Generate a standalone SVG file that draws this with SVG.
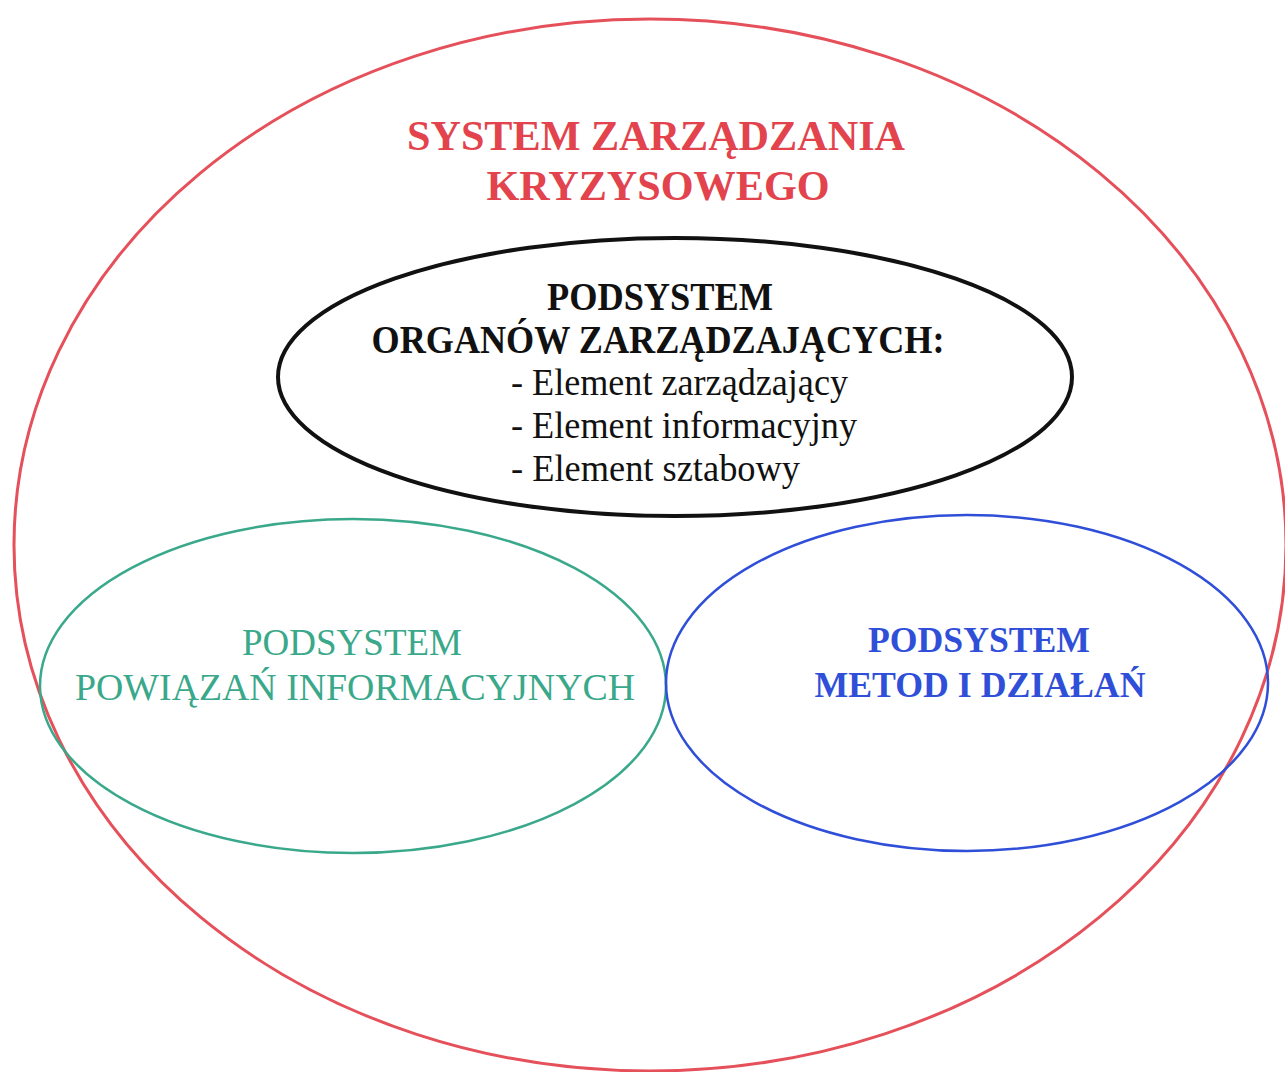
<svg xmlns="http://www.w3.org/2000/svg" width="1285" height="1072" viewBox="0 0 1285 1072">
  <style>
    .outline { fill: none; }
    .t { font-family: "Liberation Serif", "Times New Roman", serif; text-anchor: middle; }
    .s { text-anchor: start; }
    .b { font-weight: bold; }
    .red { fill: #e2434c; }
    .green { fill: #3aa88a; }
    .blue { fill: #2f4fd8; }
    .blk { fill: #111111; }
  </style>
  <rect width="1285" height="1072" fill="#ffffff"/>

  <!-- Outer system -->
  <g id="system">
    <ellipse class="outline" cx="650" cy="545" rx="636" ry="526" stroke="#e5505a" stroke-width="3"/>
    <text class="t b red" font-size="42" x="656" y="150" textLength="498" lengthAdjust="spacingAndGlyphs">SYSTEM ZARZĄDZANIA</text>
    <text class="t b red" font-size="42" x="658" y="200" textLength="343" lengthAdjust="spacingAndGlyphs">KRYZYSOWEGO</text>
  </g>

  <!-- Management bodies subsystem -->
  <g id="organy">
    <ellipse class="outline" cx="675" cy="377" rx="397" ry="139" stroke="#111111" stroke-width="4"/>
    <text class="t b blk" font-size="40" x="660" y="310" textLength="226" lengthAdjust="spacingAndGlyphs">PODSYSTEM</text>
    <text class="t b blk" font-size="40" x="658" y="353" textLength="573" lengthAdjust="spacingAndGlyphs">ORGANÓW ZARZĄDZAJĄCYCH:</text>
    <text class="t s blk" font-size="37" x="511" y="395" textLength="337" lengthAdjust="spacingAndGlyphs">- Element zarządzający</text>
    <text class="t s blk" font-size="37" x="511" y="438" textLength="346" lengthAdjust="spacingAndGlyphs">- Element informacyjny</text>
    <text class="t s blk" font-size="37" x="511" y="481" textLength="289" lengthAdjust="spacingAndGlyphs">- Element sztabowy</text>
  </g>

  <!-- Information links subsystem -->
  <g id="powiazania">
    <ellipse class="outline" cx="353" cy="686" rx="313" ry="167" stroke="#3aa88a" stroke-width="2.5"/>
    <text class="t green" font-size="38" x="352" y="655" textLength="220" lengthAdjust="spacingAndGlyphs">PODSYSTEM</text>
    <text class="t green" font-size="38" x="355" y="700" textLength="560" lengthAdjust="spacingAndGlyphs">POWIĄZAŃ INFORMACYJNYCH</text>
  </g>

  <!-- Methods and actions subsystem -->
  <g id="metody">
    <ellipse class="outline" cx="967" cy="683" rx="301" ry="168" stroke="#2f4fd8" stroke-width="2.5"/>
    <text class="t b blue" font-size="36" x="979" y="652" textLength="222" lengthAdjust="spacingAndGlyphs">PODSYSTEM</text>
    <text class="t b blue" font-size="36" x="980" y="697" textLength="331" lengthAdjust="spacingAndGlyphs">METOD I DZIAŁAŃ</text>
  </g>

  <g id="connectors"></g>
</svg>
